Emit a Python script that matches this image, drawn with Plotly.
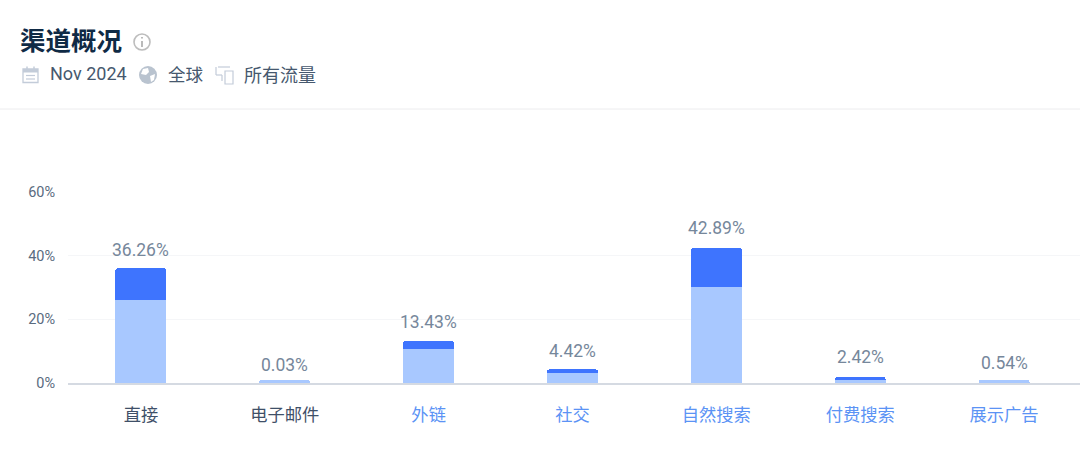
import plotly.graph_objects as go

categories = ["直接", "电子邮件", "外链", "社交", "自然搜索", "付费搜索", "展示广告"]
light_values = [26.1, 0.9, 10.7, 3.1, 30.2, 0.9, 0.9]
dark_values = [10.0, 0.0, 2.5, 1.2, 12.2, 1.0, 0.0]
total_values = [36.26, 0.03, 13.43, 4.42, 42.89, 2.42, 0.54]
total_labels = ["36.26%", "0.03%", "13.43%", "4.42%", "42.89%", "2.42%", "0.54%"]
label_colors = ["#3f5068", "#3f5068", "#5b93f5", "#5b93f5", "#5b93f5", "#5b93f5", "#5b93f5"]
y_ticks = [0, 20, 40, 60]
y_tick_labels = ["0%", "20%", "40%", "60%"]

W, H = 1080, 454
ML, MR, MT, MB = 68, 0, 192, 71
FONT = "Roboto, 'Noto Sans CJK SC', sans-serif"
CJK = "'Noto Sans CJK SC', Roboto, sans-serif"


def px(x):
    return (x - ML) / (W - ML - MR)


def py(y):
    return (H - MB - y) / (H - MT - MB)


def line(x0, y0, x1, y1, color, width=1.0):
    return dict(type="line", xref="paper", yref="paper", x0=px(x0), y0=py(y0), x1=px(x1), y1=py(y1),
                line=dict(color=color, width=width), layer="above")


def rect(x0, y0, x1, y1, color=None, fill=None, width=1.3):
    return dict(type="rect", xref="paper", yref="paper", x0=px(x0), y0=py(y0), x1=px(x1), y1=py(y1),
                line=dict(color=color or "rgba(0,0,0,0)", width=width), fillcolor=fill or "rgba(0,0,0,0)", layer="above")


def circle(cx, cy, r, color=None, fill=None, width=1.6):
    return dict(type="circle", xref="paper", yref="paper", x0=px(cx - r), y0=py(cy - r), x1=px(cx + r), y1=py(cy + r),
                line=dict(color=color or "rgba(0,0,0,0)", width=width), fillcolor=fill or "rgba(0,0,0,0)", layer="above")


def poly(points, fill):
    d = "M" + " L".join(f"{px(a):.5f},{py(b):.5f}" for a, b in points) + " Z"
    return dict(type="path", xref="paper", yref="paper", path=d, fillcolor=fill, line=dict(width=0), layer="above")


def label(x, y, text, size, color, font=CJK, anchor="left"):
    return dict(xref="paper", yref="paper", x=px(x), y=py(y), text=text, showarrow=False, xanchor=anchor,
                yanchor="middle", font=dict(family=font, size=size, color=color), borderpad=0, borderwidth=0)


fig = go.Figure()
fig.add_bar(x=categories, y=light_values, marker=dict(color="#a8c8ff", line=dict(width=0)), width=0.355)
fig.add_bar(x=categories, y=dark_values, marker=dict(color="#3e74fe", line=dict(width=0)), width=0.355)

value_notes = [
    dict(x=c, y=v, xref="x", yref="y", text=t, showarrow=False, yanchor="middle", yshift=18,
         font=dict(family=FONT, size=17.5, color="#76879b"))
    for c, v, t in zip(categories, total_values, total_labels)
]

icon = "#c3ccd9"
shapes = [
    line(0, 109, 1080, 109, "#ececee", 1),
    circle(142, 42, 8, "#bdbdbd", None, 1.6),
    line(142, 41, 142, 47, "#a9a9a9", 1.6),
    line(142, 37, 142, 38.5, "#a9a9a9", 1.6),
    rect(23, 69, 38, 82.5, icon),
    rect(23, 69, 38, 72.5, None, icon),
    line(27, 66.5, 27, 69, icon, 1.5),
    line(34, 66.5, 34, 69, icon, 1.5),
    line(26, 75.5, 35, 75.5, icon, 1.2),
    line(26, 79, 35, 79, icon, 1.2),
    circle(148, 75, 9, None, "#b9c3cf", 0),
    poly([(143, 69), (148, 68), (149, 72), (146, 75), (141, 74)], "#ffffff"),
    poly([(150, 76), (155, 74), (154, 80), (151, 82)], "#ffffff"),
    line(218, 67, 230, 67, icon, 1.2),
    line(216, 67, 216, 75, icon, 1.2),
    line(216, 75, 222, 75, icon, 1.2),
    line(222, 75, 222, 81, icon, 1.2),
    rect(225, 71, 233, 84, icon, "#ffffff", 1.2),
]

fig.update_layout(
    width=W, height=H, autosize=False,
    margin=dict(l=ML, r=MR, t=MT, b=MB, pad=0),
    paper_bgcolor="#ffffff", plot_bgcolor="#ffffff",
    barmode="stack", barcornerradius=3, showlegend=False,
    font=dict(family=FONT),
    shapes=shapes,
    annotations=[
        label(20, 38, "<b>渠道概况</b>", 25.5, "#0f2a45"),
        label(50, 74, "Nov 2024", 18, "#46586e", FONT),
        label(168, 74, "全球", 17.5, "#46586e"),
        label(244, 74, "所有流量", 18, "#46586e"),
    ] + value_notes,
    xaxis=dict(
        type="category", categoryorder="array", categoryarray=categories,
        tickmode="array", tickvals=categories,
        ticktext=[f'<span style="color:{c}">{t}</span>' for t, c in zip(categories, label_colors)],
        tickfont=dict(family=CJK, size=17.3, color="#3f5068"),
        range=[-0.507, 6.528], showgrid=False, zeroline=False,
        showline=True, linecolor="#d5dae2", linewidth=2, ticks="outside", ticklen=15, tickcolor="rgba(0,0,0,0)",
    ),
    yaxis=dict(
        range=[0, 60], tickmode="array", tickvals=y_ticks, ticktext=y_tick_labels,
        tickfont=dict(family=FONT, size=14.5, color="#5a6b80"),
        showgrid=True, gridcolor="#f5f6f8", gridwidth=1, zeroline=False, showline=False,
        ticks="outside", ticklen=9, tickcolor="rgba(0,0,0,0)",
    ),
)

fig.write_html("out.html", config={"displayModeBar": False}, post_script="document.body.style.margin='0';")
